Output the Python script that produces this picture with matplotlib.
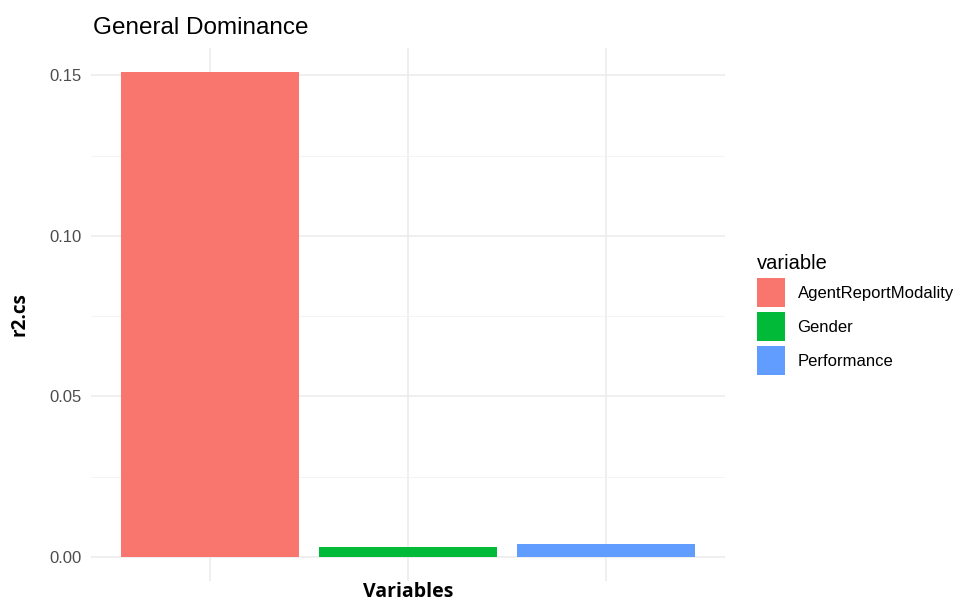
import matplotlib
matplotlib.use("Agg")
import matplotlib.pyplot as plt
from matplotlib.patches import Patch

categories = ["AgentReportModality", "Gender", "Performance"]
values = [0.151, 0.0031, 0.0040]
colors = ["#F8766D", "#00BA38", "#619CFF"]
yticks = [0.00, 0.05, 0.10, 0.15]
ytick_labels = ["0.00", "0.05", "0.10", "0.15"]

fig = plt.figure(figsize=(9.58, 6.06), dpi=100)
ax = fig.add_axes([0.095, 0.041, 0.662, 0.880])

x = list(range(1, len(categories) + 1))
ax.bar(x, values, width=0.9, color=colors, zorder=3)

ax.set_xlim(0.4, 3.6)
ymax = max(values)
ax.set_ylim(-0.05 * ymax, ymax * 1.05)

ax.set_yticks(yticks)
ax.set_yticklabels(ytick_labels, family="Liberation Sans", fontsize=12, color="#4D4D4D")
ax.set_yticks([0.025, 0.075, 0.125], minor=True)
ax.set_xticks(x)
ax.set_xticklabels([])
ax.tick_params(axis="both", which="both", length=0, pad=7)

ax.grid(True, which="major", color="#EBEBEB", linewidth=1.1, zorder=0)
ax.grid(True, which="minor", axis="y", color="#F3F3F3", linewidth=0.6, zorder=0)
for s in ax.spines.values():
    s.set_visible(False)

ax.xaxis.set_label_coords(0.5, -0.002)
ax.set_xlabel("Variables", family="Open Sans", fontweight="bold", fontsize=14, va="top")
ax.set_ylabel("r2.cs", family="Open Sans", fontweight="bold", fontsize=13.5, labelpad=14)
ax.set_title("General Dominance", family="Liberation Sans", fontsize=17.5, loc="left", x=0.003, pad=10)

handles = [Patch(facecolor=c, edgecolor="none") for c in colors]
leg = fig.legend(handles, categories, title="variable", loc="upper left",
                 bbox_to_anchor=(0.783, 0.592), frameon=False,
                 prop={"family": "Liberation Sans", "size": 12},
                 handlelength=1.7, handleheight=2.3, handletextpad=0.75,
                 labelspacing=0.3, borderaxespad=0)
leg.get_title().set_family("Liberation Sans")
leg.get_title().set_fontsize(14.5)
leg._legend_box.align = "left"

fig.savefig("out.png", dpi=100)
